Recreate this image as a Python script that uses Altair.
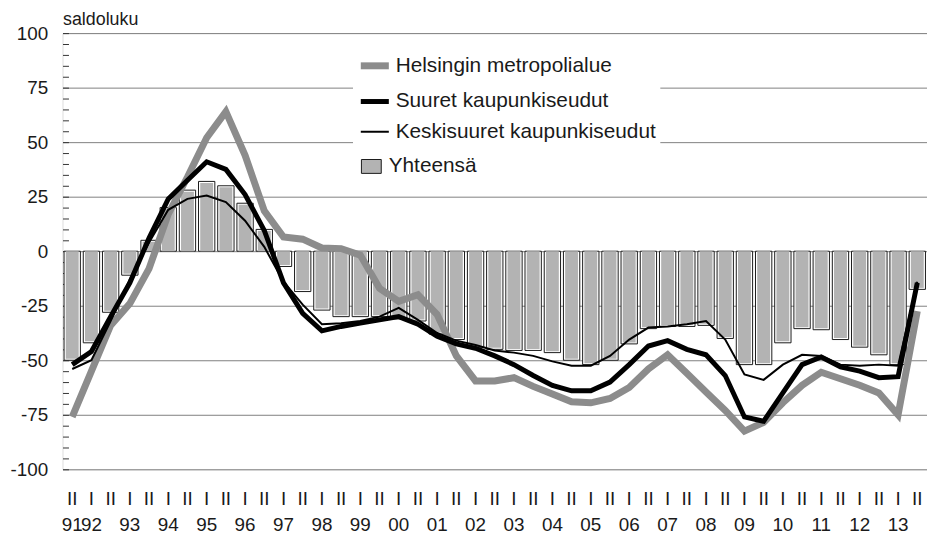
import altair as alt
import pandas as pd

FONT = "Liberation Sans"
TXT = "#1a1a1a"

S_HEL = "Helsingin metropolialue"
S_SUU = "Suuret kaupunkiseudut"
S_KES = "Keskisuuret kaupunkiseudut"
S_YHT = "Yhteensä"

# half-year periods 1991 II ... 2013 II
periods = []
for yr in range(1991, 2014):
    for half in ["I", "II"]:
        if yr == 1991 and half == "I":
            continue
        periods.append(f"{yr}-{half}")

yhteensa = [-50, -42, -28, -11, 5, 20, 28, 32, 30, 22, 10, -7, -18.5,
            -27, -30, -30, -30, -31, -32, -38,
            -40.5, -44, -45, -45.5, -45.5, -46.5, -50, -52,
            -50, -42.5, -35.5, -34.5, -34.5, -34,
            -40, -52, -52, -42, -35.5, -36, -40.5, -44, -47.5, -52, -17.5]

helsinki = [-76, -55, -34, -24, -8, 17, 34, 52, 64, 44, 18.5, 6.5, 5.5,
            1.5, 1.2, -1.8, -17, -23, -20, -29,
            -48, -59.5, -59.5, -58, -62, -65.5, -69, -69.5,
            -67.5, -62.5, -54, -47.5, -56, -64.5,
            -73, -82.5, -78.5, -69.5, -61.5, -55.5, -58.5, -61.5, -65, -75, -27.5]

suuret = [-52, -46, -30, -14.5, 6, 24, 32.5, 41, 37.5, 26, 9.5, -14.5, -28.5,
          -36.5, -34.5, -33, -31.5, -30, -33.5, -39,
          -42.5, -44.5, -48, -52, -57, -61.5, -64, -64,
          -60, -52, -43.5, -41, -45, -47.5,
          -57, -76, -78, -65, -52, -48.5, -53, -55, -58, -57.5, -14.5]

keski = [-54, -50, -32, -13, 4, 19, 24, 25.5, 22.5, 14, 2, -14, -24.5,
         -33.5, -33, -32, -30, -26, -31.5, -37.5,
         -41, -43, -45.5, -46.5, -48, -50.5, -52.5, -52.5,
         -48, -40.5, -35, -34.5, -33.5, -32,
         -40.5, -56.5, -59, -52, -47.5, -48, -52, -52.5, -52, -52.5, -14]

y_ticks = list(range(-100, 101, 25))
y_minor = list(range(-100, 101, 5))

line_names = [S_HEL, S_SUU, S_KES]
line_colors = ["#8c8c8c", "#000000", "#000000"]
line_widths = [7, 5, 2]

bars_df = pd.DataFrame({"period": periods, "value": yhteensa, "lab": [S_YHT] * len(periods)})
lines_df = pd.DataFrame({
    "period": periods * 3,
    "series": [S_HEL] * len(periods) + [S_SUU] * len(periods) + [S_KES] * len(periods),
    "value": helsinki + suuret + keski,
})

W, H = 872, 440
yscale = alt.Scale(domain=[-100, 100], nice=False, zero=False)
xscale = alt.Scale(paddingInner=0.15, paddingOuter=0.08)

x_axis = alt.Axis(
    title=None,
    labelExpr="[slice(datum.value, 5), (slice(datum.value, 5) == 'I' || datum.value == '1991-II') ? slice(datum.value, 2, 4) : '']",
    labelAngle=0, ticks=False, domain=False, grid=False,
    labelPadding=20, labelFont=FONT, labelFontSize=19, labelColor=TXT,
    labelLineHeight=27, labelOverlap=False,
)

y_axis = alt.Axis(
    title="saldoluku", titleAngle=0, titleAlign="left", titleX=0, titleY=-9,
    titleBaseline="alphabetic", titleFont=FONT, titleFontSize=18,
    titleFontWeight="normal", titleColor=TXT,
    values=y_ticks, labelExpr="'' + datum.value",
    grid=True, gridColor="#808080", gridWidth=1,
    ticks=False, domain=False, labelPadding=15,
    labelFont=FONT, labelFontSize=19, labelColor=TXT,
)

minor_axis = alt.Axis(
    orient="right", offset=-W, values=y_minor, labels=False, domain=False,
    grid=False, ticks=True, tickSize=6, tickColor="#333333", tickWidth=1, title=None,
)

line_legend = alt.Legend(
    title=None, orient="none", legendX=293, legendY=11, fillColor="white",
    padding=4, symbolType="stroke", symbolSize=800, labelFont=FONT,
    labelFontSize=21, labelColor=TXT, labelOffset=3, rowPadding=5, labelLimit=500,
)

bar_legend = alt.Legend(
    title=None, orient="none", legendX=297, legendY=120, fillColor="white",
    padding=4, symbolType="M-1,-0.7H1V0.7H-1Z", symbolSize=400,
    symbolStrokeColor="#1a1a1a", symbolStrokeWidth=1,
    labelFont=FONT, labelFontSize=21, labelColor=TXT, labelOffset=7, labelLimit=500,
)

X = alt.X("period:O", sort=periods, scale=xscale, axis=x_axis)

base_bars = alt.Chart(bars_df)

outer = base_bars.mark_bar(fill="white", stroke="#1a1a1a", strokeWidth=1).encode(
    x=X,
    y=alt.Y("value:Q", scale=yscale, axis=y_axis, stack=None),
)

fill_enc = alt.Fill("lab:N", scale=alt.Scale(domain=[S_YHT], range=["#b3b3b3"]), legend=bar_legend)

inner_pos = base_bars.transform_filter("datum.value > 0").mark_bar(size=13, yOffset=1.5).encode(
    x=X,
    y=alt.Y("value:Q", axis=None, stack=None),
    fill=fill_enc,
)
inner_neg = base_bars.transform_filter("datum.value <= 0").mark_bar(size=13, yOffset=-1.5).encode(
    x=X,
    y=alt.Y("value:Q", axis=None, stack=None),
    fill=fill_enc,
)

line_layers = []
for name in line_names:
    line_layers.append(
        alt.Chart(lines_df).transform_filter(alt.datum.series == name).mark_line(strokeJoin="miter").encode(
            x=X,
            y=alt.Y("value:Q", axis=None),
            color=alt.Color("series:N", scale=alt.Scale(domain=line_names, range=line_colors), legend=line_legend),
            strokeWidth=alt.StrokeWidth("series:N", scale=alt.Scale(type="ordinal", domain=line_names, range=line_widths), legend=line_legend),
        )
    )

minor = base_bars.mark_point(opacity=0).encode(
    x=X,
    y=alt.Y("value:Q", axis=minor_axis),
)

chart = alt.layer(outer, inner_pos, inner_neg, *line_layers, minor).resolve_axis(
    y="independent"
).resolve_scale(y="shared").properties(
    width=W, height=H,
    autosize=alt.AutoSizeParams(type="none"),
    padding={"left": 55, "top": 23, "right": 0, "bottom": 71},
).configure_view(stroke="#1a1a1a", strokeWidth=1).configure(background="white")

chart.save("out.html", embed_options={"renderer": "svg", "actions": False})
